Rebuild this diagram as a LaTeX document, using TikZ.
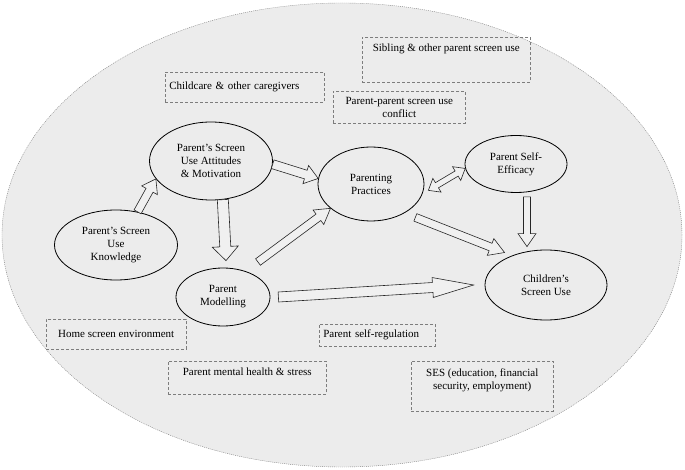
\documentclass[tikz,border=0pt]{standalone}
\usepackage{fontspec}
\setmainfont{Liberation Serif}
\usetikzlibrary{calc,shapes.geometric}
\definecolor{PanelGray}{RGB}{236,236,236}
\definecolor{ArrowGray}{RGB}{240,240,240}
\definecolor{BoxLine}{RGB}{125,125,125}
\tikzset{
  panel/.style={draw=BoxLine,fill=PanelGray,line width=0.4pt,dash pattern=on 1pt off 1pt},
  factor/.style={draw,ellipse,line width=0.8pt,inner sep=0pt,align=center,
    font=\fontsize{11}{13}\selectfont},
  context/.style={draw=BoxLine,densely dashed,line width=0.5pt,inner xsep=4pt,
    inner ysep=3pt,align=center,anchor=north west,font=\fontsize{11}{13}\selectfont},
  fatarrow/.style={draw=black!85,fill=ArrowGray,line width=0.6pt,line join=miter}
}
% #1 tail, #2 tip, #3 shaft half width, #4 head half width, #5 head length
\newcommand{\fatarrow}[5]{%
  \draw[fatarrow] let \p1=($(#2)-(#1)$), \n1={atan2(\y1,\x1)} in
    ($(#1)+(\n1+90:#3)$) -- ($(#2)!#5!(#1)+(\n1+90:#3)$)
    -- ($(#2)!#5!(#1)+(\n1+90:#4)$) -- (#2)
    -- ($(#2)!#5!(#1)+(\n1-90:#4)$) -- ($(#2)!#5!(#1)+(\n1-90:#3)$)
    -- ($(#1)+(\n1-90:#3)$) -- cycle;}
\newcommand{\fatdblarrow}[5]{%
  \draw[fatarrow] let \p1=($(#2)-(#1)$), \n1={atan2(\y1,\x1)} in
    (#1) -- ($(#1)!#5!(#2)+(\n1+90:#4)$) -- ($(#1)!#5!(#2)+(\n1+90:#3)$)
    -- ($(#2)!#5!(#1)+(\n1+90:#3)$) -- ($(#2)!#5!(#1)+(\n1+90:#4)$) -- (#2)
    -- ($(#2)!#5!(#1)+(\n1-90:#4)$) -- ($(#2)!#5!(#1)+(\n1-90:#3)$)
    -- ($(#1)!#5!(#2)+(\n1-90:#3)$) -- ($(#1)!#5!(#2)+(\n1-90:#4)$) -- cycle;}

\begin{document}
\begin{tikzpicture}[x=1pt,y=-1pt]
  \useasboundingbox (0,0) rectangle (685,470);
  \path[panel] (342,235) ellipse [x radius=340pt,y radius=232pt];

  % context boxes
  \node[context,minimum width=168pt,text height=11pt,text depth=28pt] (sib) at (362,37)
    {Sibling \& other parent screen use};
  \node[context,text width=151pt,align=left,minimum height=30pt] (care) at (165,72)
    {Childcare \& other caregivers};
  \node[context,minimum width=132pt,minimum height=32pt] (conf) at (333,91)
    {Parent-parent screen use\\conflict};
  \node[context,minimum width=140pt,minimum height=30pt] (home) at (46,319)
    {Home screen environment};
  \node[context,minimum width=158pt,text height=11pt,text depth=16pt] (mental) at (168,361)
    {Parent mental health \& stress};
  \node[context,text width=108pt,align=left,minimum height=22pt] (selfreg) at (319,324)
    {Parent self-regulation};
  \node[context,minimum width=142pt,text height=25pt,text depth=19pt] (ses) at (411,361)
    {SES (education, financial\\security, employment)};

  % factors
  \node[factor,minimum width=123pt,minimum height=70pt] (know) at (116,245)
    {Parent’s Screen\\Use\\Knowledge};
  \node[factor,minimum width=123pt,minimum height=78pt] (att) at (211,161)
    {Parent’s Screen\\Use Attitudes\\\& Motivation};
  \node[factor,minimum width=106pt,minimum height=74pt] (prac) at (371,184)
    {Parenting\\Practices};
  \node[factor,minimum width=102pt,minimum height=57pt] (eff) at (516,164)
    {Parent Self-\\Efficacy};
  \node[factor,minimum width=94pt,minimum height=58pt] (model) at (223,297)
    {Parent\\Modelling};
  \node[factor,minimum width=122pt,minimum height=70pt] (child) at (546,285)
    {Children’s\\Screen Use};

  % free arrow ends
  \coordinate (mtop) at ($(model.north)+(3,-7)$);
  \coordinate (m2p) at ($(model.45)+(10,-10)$);
  \coordinate (pe1) at ($(prac.-8)+(5,-1)$);
  \coordinate (p2c) at ($(prac.-37)+(8,6)$);
  \coordinate (ctip) at ($(child.142)+(-5,-4)$);
  \coordinate (e2c) at ($(eff.south)+(11,4)$);
  \coordinate (ctop) at ($(child.north)+(-19,-3)$);
  \coordinate (m2c) at ($(model.east)+(8,0)$);
  \coordinate (cwest) at ($(child.west)+(-11,0)$);

  % block arrows
  \fatarrow{know.57}{att.198}{4pt}{9pt}{13pt}
  \fatarrow{att.-73}{mtop}{5.5pt}{13pt}{14pt}
  \fatarrow{att.-3}{prac.174}{4.5pt}{9.5pt}{13pt}
  \fatarrow{m2p}{prac.211}{4pt}{9pt}{15pt}
  \fatdblarrow{pe1}{eff.185}{3pt}{8pt}{10pt}
  \fatarrow{p2c}{ctip}{4pt}{9pt}{15pt}
  \fatarrow{e2c}{ctop}{3.5pt}{9pt}{13pt}
  \fatarrow{m2c}{cwest}{5pt}{10pt}{41pt}
\end{tikzpicture}
\end{document}
